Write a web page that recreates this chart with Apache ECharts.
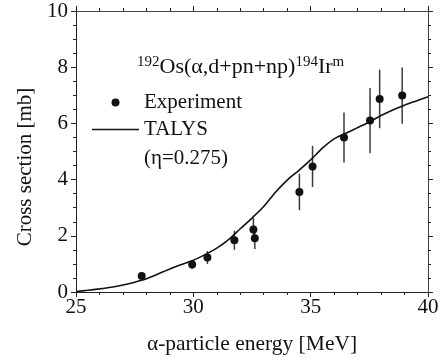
<!DOCTYPE html>
<html>
<head>
<meta charset="utf-8">
<script src="https://cdn.jsdelivr.net/npm/echarts@6/dist/echarts.min.js"></script>
<style>
html,body{margin:0;padding:0;background:#fff;}
#chart{width:446px;height:362px;}
</style>
</head>
<body>
<div id="chart"></div>
<script>
// Experimental data
var expEnergy = [27.8, 29.95, 30.6, 31.75, 32.56, 32.62, 34.52, 35.08, 36.42, 37.53, 37.94, 38.9];
var expXs     = [0.57, 0.98, 1.23, 1.84, 2.22, 1.91, 3.56, 4.47, 5.50, 6.10, 6.87, 6.99];
var expErr    = [0.08, 0.16, 0.23, 0.34, 0.42, 0.38, 0.65, 0.73, 0.89, 1.16, 1.04, 1.00];

// TALYS calculation
var talysEnergy = [25, 25.5, 26, 26.5, 27, 27.5, 28, 28.5, 29, 29.5, 30, 30.5, 31, 31.5, 32, 32.5,
                   33, 33.5, 34, 34.5, 35, 35.5, 36, 36.5, 37, 37.5, 38, 38.5, 39, 39.5, 40];
var talysXs = [0.02, 0.06, 0.11, 0.17, 0.25, 0.35, 0.47, 0.64, 0.82, 0.98, 1.13, 1.33, 1.56, 1.86, 2.25, 2.63,
               3.04, 3.55, 3.98, 4.33, 4.7, 5.12, 5.45, 5.65, 5.85, 6.05, 6.28, 6.48, 6.65, 6.8, 6.95];

var xTicks = [25, 30, 35, 40];
var yTicks = [0, 2, 4, 6, 8, 10];

var FONT = '"Liberation Serif", "Times New Roman", serif';

var expPoints = expEnergy.map(function (e, i) { return [e, expXs[i]]; });
var errData = expEnergy.map(function (e, i) { return [e, expXs[i] - expErr[i], expXs[i] + expErr[i]]; });
var talysLine = talysEnergy.map(function (e, i) { return [e, talysXs[i]]; });

var chart = echarts.init(document.getElementById('chart'), null, {renderer: 'canvas'});

var axisCommon = {
  axisLine: {show: true, onZero: false, lineStyle: {color: '#222', width: 1}},
  axisTick: {show: true, inside: false, length: 5, lineStyle: {color: '#222', width: 1}},
  minorTick: {show: true, length: 3, lineStyle: {color: '#222', width: 1}},
  splitLine: {show: false}
};

chart.setOption({
  animation: false,
  backgroundColor: '#fff',
  title: {
    left: 137, top: 55, padding: 0,
    text: '{sup|192}{main|Os(α,d+pn+np)}{sup|194}{main|Ir}{sup|m}',
    textStyle: {
      fontWeight: 'normal',
      rich: {
        main: {fontFamily: FONT, fontSize: 22, fontWeight: 'normal', color: '#111', lineHeight: 24},
        sup: {fontFamily: FONT, fontSize: 15, fontWeight: 'normal', color: '#111', lineHeight: 15, verticalAlign: 'top'}
      }
    }
  },
  legend: {
    orient: 'vertical', left: 92, top: 92, padding: 0,
    itemWidth: 47, itemHeight: 8, itemGap: 6,
    textStyle: {fontFamily: FONT, fontSize: 21, color: '#111', lineHeight: 21},
    data: [
      {name: 'Experiment', icon: 'circle'},
      {name: 'TALYS', icon: 'path://M0,0H470V16H0Z'}
    ]
  },
  graphic: [{
    type: 'text', left: 144, top: 148,
    style: {text: '(η=0.275)', font: '21px ' + FONT, fill: '#111'}
  }],
  grid: {left: 76, right: 18, top: 11, bottom: 70, containLabel: false},
  xAxis: [Object.assign({}, axisCommon, {
    type: 'value', min: 25, max: 40, interval: 5,
    minorTick: Object.assign({}, axisCommon.minorTick, {splitNumber: 5}),
    axisLabel: {fontFamily: FONT, fontSize: 21, color: '#111', margin: 5,
      formatter: function (v) { return xTicks.indexOf(v) >= 0 ? String(v) : ''; }},
    name: 'α-particle energy [MeV]', nameLocation: 'middle', nameGap: 41,
    nameTextStyle: {fontFamily: FONT, fontSize: 21.5, color: '#111'}
  }), Object.assign({}, axisCommon, {
    type: 'value', position: 'top', min: 25, max: 40, interval: 5,
    axisLine: {show: true, onZero: false, lineStyle: {color: '#444', width: 1}},
    minorTick: Object.assign({}, axisCommon.minorTick, {splitNumber: 5}),
    axisLabel: {show: false}
  })],
  yAxis: [Object.assign({}, axisCommon, {
    type: 'value', min: 0, max: 10, interval: 2,
    minorTick: Object.assign({}, axisCommon.minorTick, {splitNumber: 4}),
    axisLabel: {fontFamily: FONT, fontSize: 21, color: '#111', margin: 8,
      formatter: function (v) { return yTicks.indexOf(v) >= 0 ? String(v) : ''; }},
    name: 'Cross section [mb]', nameLocation: 'middle', nameGap: 38,
    nameTextStyle: {fontFamily: FONT, fontSize: 21, color: '#111', padding: [0, 31, 0, 0]}
  }), Object.assign({}, axisCommon, {
    type: 'value', position: 'right', min: 0, max: 10, interval: 2,
    axisLine: {show: true, onZero: false, lineStyle: {color: '#444', width: 1}},
    minorTick: Object.assign({}, axisCommon.minorTick, {splitNumber: 4}),
    axisLabel: {show: false}
  })],
  series: [
    {
      name: 'TALYS', type: 'line', data: talysLine, symbol: 'none', smooth: 0.25,
      lineStyle: {color: '#111', width: 1.6}, itemStyle: {color: '#111'}, z: 3
    },
    {
      name: 'errorbars', type: 'custom', data: errData, z: 2,
      renderItem: function (params, api) {
        var x = api.value(0);
        var lo = api.coord([x, api.value(1)]);
        var hi = api.coord([x, api.value(2)]);
        return {
          type: 'line',
          shape: {x1: lo[0], y1: lo[1], x2: hi[0], y2: hi[1]},
          style: {stroke: '#3a3a3a', lineWidth: 1.5}
        };
      }
    },
    {
      name: 'Experiment', type: 'scatter', data: expPoints, symbol: 'circle', symbolSize: 8,
      itemStyle: {color: '#111', opacity: 1}, z: 4
    }
  ]
});
</script>
</body>
</html>
